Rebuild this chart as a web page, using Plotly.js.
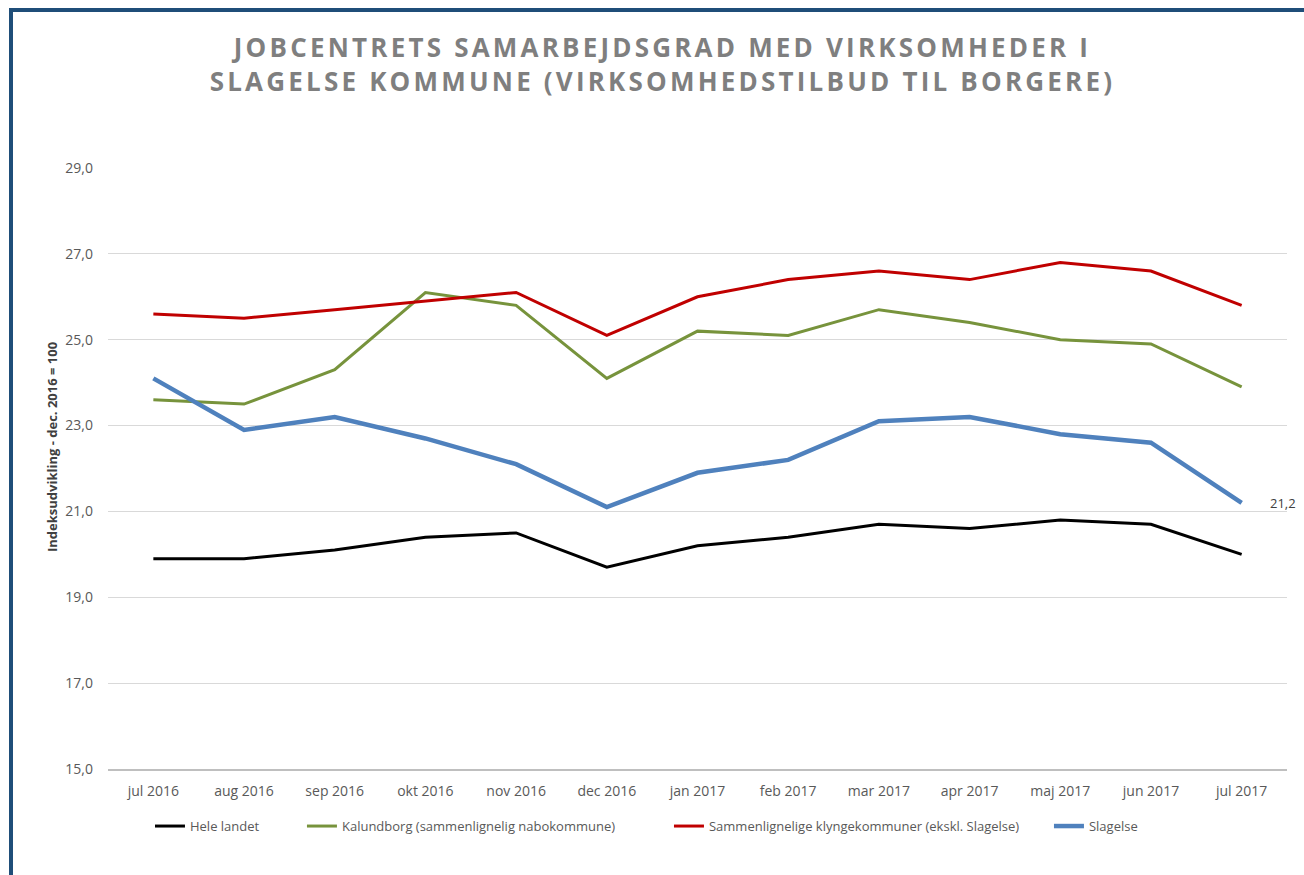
<!DOCTYPE html>
<html>
<head>
<meta charset="utf-8">
<script src="https://cdn.plot.ly/plotly-3.0.1.min.js"></script>
<style>
  html, body { margin: 0; padding: 0; background: #ffffff; }
  #wrap { position: relative; width: 1304px; height: 875px; overflow: hidden; }
  #chart { position: absolute; left: 0; top: 0; width: 1304px; height: 875px; }
  #frame { position: absolute; left: 9px; top: 8px; width: 1300px; height: 880px;
           border-left: 4px solid #1F4E79; border-top: 4px solid #1F4E79; pointer-events: none; }
  #chart .gtitle { letter-spacing: 3.2px; }
</style>
</head>
<body>
<div id="wrap">
  <div id="chart"></div>
  <div id="frame"></div>
</div>
<script>
const months = ['jul 2016', 'aug 2016', 'sep 2016', 'okt 2016', 'nov 2016', 'dec 2016',
                'jan 2017', 'feb 2017', 'mar 2017', 'apr 2017', 'maj 2017', 'jun 2017', 'jul 2017'];

const heleLandet = [19.9, 19.9, 20.1, 20.4, 20.5, 19.7, 20.2, 20.4, 20.7, 20.6, 20.8, 20.7, 20.0];
const kalundborg = [23.6, 23.5, 24.3, 26.1, 25.8, 24.1, 25.2, 25.1, 25.7, 25.4, 25.0, 24.9, 23.9];
const klyngekommuner = [25.6, 25.5, 25.7, 25.9, 26.1, 25.1, 26.0, 26.4, 26.6, 26.4, 26.8, 26.6, 25.8];
const slagelse = [24.1, 22.9, 23.2, 22.7, 22.1, 21.1, 21.9, 22.2, 23.1, 23.2, 22.8, 22.6, 21.2];

const seriesNames = ['Hele landet', 'Kalundborg (sammenlignelig nabokommune)',
                     'Sammenlignelige klyngekommuner (ekskl. Slagelse)', 'Slagelse'];

const yTickVals = [15, 17, 19, 21, 23, 25, 27, 29];

const FONT = 'Open Sans, Noto Sans, sans-serif';

const traces = [
  { x: months, y: heleLandet, name: seriesNames[0], legend: 'legend', type: 'scatter', mode: 'lines',
    line: { color: '#000000', width: 3 } },
  { x: months, y: kalundborg, name: seriesNames[1], legend: 'legend2', type: 'scatter', mode: 'lines',
    line: { color: '#77933C', width: 3 } },
  { x: months, y: klyngekommuner, name: seriesNames[2], legend: 'legend3', type: 'scatter', mode: 'lines',
    line: { color: '#C00000', width: 3 } },
  { x: months, y: slagelse, name: seriesNames[3], legend: 'legend4', type: 'scatter', mode: 'lines',
    line: { color: '#4F81BD', width: 4.5 } }
];

const lastIdx = slagelse.length - 1;
const lastLabel = slagelse[lastIdx].toFixed(1).replace('.', ',');

function legendAt(xPaper) {
  return {
    orientation: 'h',
    x: xPaper, xanchor: 'left',
    y: -0.095, yanchor: 'middle',
    font: { family: FONT, size: 13, color: '#595959' },
    bgcolor: 'rgba(0,0,0,0)',
    itemwidth: 30
  };
}

const layout = {
  width: 1304,
  height: 875,
  paper_bgcolor: 'rgba(0,0,0,0)',
  plot_bgcolor: '#ffffff',
  separators: ',.',
  margin: { l: 108, r: 17, t: 168, b: 106 },
  font: { family: FONT, color: '#595959', size: 13 },
  title: {
    text: 'JOBCENTRETS SAMARBEJDSGRAD MED VIRKSOMHEDER I<br>SLAGELSE KOMMUNE (VIRKSOMHEDSTILBUD TIL BORGERE)',
    font: { family: FONT, size: 26, color: '#7F7F7F', weight: 'bold' },
    xref: 'container', x: 0.508, xanchor: 'center',
    yref: 'container', y: 0.935, yanchor: 'top'
  },
  xaxis: {
    type: 'category',
    range: [-0.5, months.length - 0.5],
    showgrid: false,
    showline: true,
    linecolor: '#BFBFBF',
    linewidth: 2,
    ticks: '',
    ticklabelstandoff: 8,
    tickfont: { family: FONT, size: 14, color: '#595959' },
    zeroline: false,
    fixedrange: true
  },
  yaxis: {
    range: [15, 29],
    tickvals: yTickVals,
    tickformat: '.1f',
    showgrid: true,
    gridcolor: '#D9D9D9',
    gridwidth: 1,
    showline: false,
    zeroline: false,
    ticks: '',
    ticklabelstandoff: 14,
    tickfont: { family: FONT, size: 14, color: '#595959' },
    fixedrange: true
  },
  legend: legendAt(0.0356),
  legend2: legendAt(0.1645),
  legend3: legendAt(0.4758),
  legend4: legendAt(0.7981),
  showlegend: true,
  annotations: [
    {
      x: months[lastIdx], y: slagelse[lastIdx], xref: 'x', yref: 'y',
      text: lastLabel, showarrow: false,
      xanchor: 'left', yanchor: 'middle', xshift: 26, yshift: 0,
      font: { family: FONT, size: 13, color: '#404040' }
    },
    {
      text: 'Indeksudvikling - dec. 2016 = 100',
      xref: 'paper', yref: 'paper',
      x: (52 - 108) / 1179, y: (769 - 447) / 601,
      xanchor: 'center', yanchor: 'middle',
      textangle: -90, showarrow: false,
      font: { family: FONT, size: 13, color: '#404040', weight: 'bold' }
    }
  ]
};

Plotly.newPlot('chart', traces, layout, { displayModeBar: false, staticPlot: true });
</script>
</body>
</html>
